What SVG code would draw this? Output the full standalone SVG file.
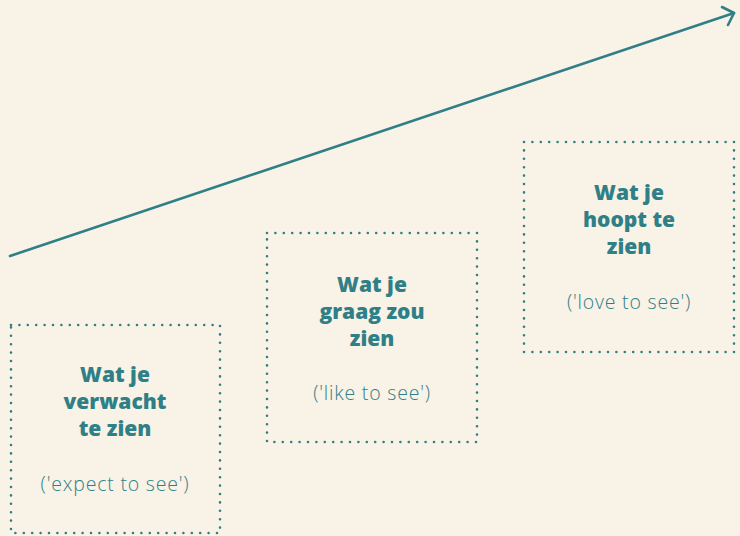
<svg xmlns="http://www.w3.org/2000/svg" width="740" height="536" viewBox="0 0 740 536">
<style>
.box{fill:none;stroke:#2f8086;stroke-width:2.6;stroke-linecap:round;stroke-dasharray:0 8.4}
.t{font-family:"Open Sans","Liberation Sans",sans-serif;font-weight:800;font-size:21px;fill:#2f8086;text-anchor:middle}
.s{font-family:"Open Sans","Liberation Sans",sans-serif;font-weight:300;font-size:19.5px;letter-spacing:0.8px;fill:#2f8086;text-anchor:middle}
.arrow{fill:none;stroke:#2f8086;stroke-width:2.6;stroke-linecap:round;stroke-linejoin:round}
</style>
<rect width="740" height="536" fill="#f9f2e7"/>
<g id="connectors">
<path class="arrow" d="M10 256 L734 13"/>
<path class="arrow" d="M722 7 L734 13 L728 25"/>
</g>
<g id="node1">
<rect class="box" x="11" y="325" width="209" height="208"/>
<text class="t" x="115" y="382">Wat je</text>
<text class="t" x="115" y="409">verwacht</text>
<text class="t" x="115" y="436">te zien</text>
<text class="s" x="115" y="491">('expect to see')</text>
</g>
<g id="node2">
<rect class="box" x="267" y="233" width="210" height="209"/>
<text class="t" x="372" y="292">Wat je</text>
<text class="t" x="372" y="319">graag zou</text>
<text class="t" x="372" y="346">zien</text>
<text class="s" x="372" y="400">('like to see')</text>
</g>
<g id="node3">
<rect class="box" x="524" y="142" width="210" height="210"/>
<text class="t" x="629" y="200">Wat je</text>
<text class="t" x="629" y="227">hoopt te</text>
<text class="t" x="629" y="254">zien</text>
<text class="s" x="629" y="309">('love to see')</text>
</g>
</svg>
